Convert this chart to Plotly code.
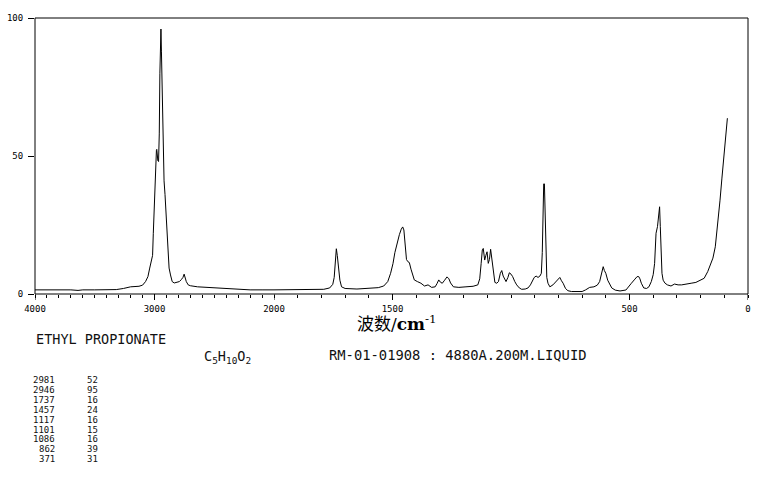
import plotly.graph_objects as go

# ---- spectrum data (Raman, ethyl propionate) ----
# high-wavenumber part (4000-2000 cm-1, compressed scale)
wn_hi = [4000, 3900, 3820, 3780, 3700, 3640, 3600, 3500, 3400, 3320, 3260, 3200, 3130, 3100,
         3075, 3055, 3040, 3026, 3016, 3010, 3004, 2998, 2990, 2984, 2981, 2978, 2972, 2966,
         2960, 2955, 2950, 2946, 2942, 2937, 2932, 2927, 2920, 2912, 2904, 2896, 2888, 2878,
         2866, 2852, 2835, 2812, 2792, 2776, 2762, 2752, 2744, 2734, 2718, 2700, 2640, 2560,
         2480, 2400, 2300, 2200, 2100, 2000]
int_hi = [1.5, 1.5, 1.5, 1.7, 1.5, 1.3, 1.5, 1.5, 1.6, 1.6, 2.0, 2.6, 2.8, 3.2,
          4.5, 6.3, 9.4, 12.3, 14, 22, 29, 42, 49.7, 52, 52.4, 48.6, 48.3, 48,
          58, 80, 92, 96, 88, 76, 55, 47, 41, 36, 30, 22, 14, 9.4,
          6.9, 4.5, 4.0, 4.3, 4.5, 5.2, 6.0, 7.2, 5.5, 4.5, 3.3, 3.0, 2.6, 2.4,
          2.2, 1.9, 1.6, 1.5, 1.5, 1.5]

# low-wavenumber part (2000-0 cm-1)
wn_lo = [2000, 1900, 1820, 1790, 1765, 1752, 1746, 1741, 1737, 1733, 1728, 1722, 1715, 1700,
         1650, 1600, 1560, 1537, 1520, 1508, 1498, 1490, 1480, 1471, 1463, 1457, 1452, 1447,
         1441, 1435, 1429, 1422, 1416, 1408, 1395, 1380, 1365, 1350, 1335, 1320, 1312, 1305,
         1298, 1290, 1280, 1270, 1262, 1255, 1243, 1220, 1190, 1160, 1140, 1132, 1126, 1121,
         1117, 1111, 1106, 1101, 1096, 1091, 1086, 1081, 1075, 1068, 1060, 1053, 1045, 1039,
         1033, 1027, 1021, 1013, 1007, 1000, 993, 984, 976, 965, 955, 940, 928, 918,
         910, 902, 894, 886, 878, 872, 868, 865, 862, 859, 856, 853, 849, 844,
         836, 823, 810, 800, 794, 787, 780, 770, 760, 745, 720, 700, 685, 668,
         650, 636, 626, 618, 611, 606, 600, 592, 584, 575, 560, 540, 515, 500,
         492, 480, 468, 461, 456, 450, 440, 428, 418, 408, 400, 394, 388, 382,
         376, 373, 370, 367, 363, 358, 350, 340, 325, 310, 295, 280, 260, 240,
         220, 200, 185, 170, 158, 148, 138, 128, 118, 110, 102, 96, 90, 87]
int_lo = [1.5, 1.5, 1.6, 1.7, 2.2, 3.5, 6, 11, 16.4, 14, 9.9, 5, 2.6, 2.0,
          1.8, 2.0, 2.3, 2.9, 4.5, 7.5, 11, 15, 19, 21.5, 23.5, 24.3, 23.2, 17.1,
          12.5, 11.7, 11.4, 9, 6.9, 5.1, 4.5, 3.9, 2.9, 3.3, 2.4, 2.6, 3.8, 5.1,
          4.3, 3.9, 5.0, 6.2, 5.5, 4.0, 2.6, 2.4, 2.6, 2.8, 3.3, 5.5, 11, 16,
          16.5, 12.3, 14, 15.3, 11.1, 12.5, 16.2, 12.3, 7.5, 4.2, 3.9, 4.5, 7.5, 8.5,
          6.5, 5.7, 4.5, 6.0, 7.7, 7.2, 6.3, 4.5, 3.3, 2.2, 1.7, 1.8, 2.2, 3.3,
          4.5, 6.0, 6.5, 6.0, 6.5, 7.5, 15, 28, 39.9, 39.9, 30, 15, 6, 3.9,
          2.6, 3.3, 4.5, 5.5, 6.0, 4.8, 3.9, 2.0, 1.2, 0.9, 0.8, 0.9, 1.5, 2.4,
          2.6, 3.2, 4.5, 7.5, 9.9, 8.5, 7.5, 5, 3.9, 2.2, 1.4, 1.1, 1.45, 2.8,
          3.9, 5.1, 6.3, 6.3, 5.5, 3.9, 2.2, 2.0, 2.6, 4.5, 7, 11.1, 22, 24.4,
          31, 31.6, 24.4, 14.7, 7.5, 5, 3.9, 3.3, 2.9, 3.6, 3.3, 3.3, 3.5, 3.9,
          4.2, 5.0, 5.7, 8.1, 10.5, 13, 17.1, 24.4, 34, 42, 50, 55.8, 60.6, 63.7]

# ---- axis tick labels ----
x_hi_labels = {4000: "4000", 3000: "3000"}
x_lo_labels = {2000: "2000", 1500: "1500", 500: "500", 0: "0"}
x_tick_step = 100
y_ticks = [0, 50, 100]
y_text = ["0", "50", "100"]

# ---- text block ----
compound = "ETHYL PROPIONATE"
formula = "C<sub>5</sub>H<sub>10</sub>O<sub>2</sub>"
sample_info = "RM-01-01908 : 4880A.200M.LIQUID"
peak_wn = ["2981", "2946", "1737", "1457", "1117", "1101", "1086", "862", "371"]
peak_int = ["52", "95", "16", "24", "16", "15", "16", "39", "31"]

# ---- layout geometry (pixels) ----
W, H = 761, 477
L, R, T, B = 35, 748, 18, 294
split = 274
pw, ph = R - L, B - T
dsplit = (split - L) / pw


def px(xp):
    return (xp - L) / pw


def py(yp):
    return (B - yp) / ph


MONO = "DejaVu Sans Mono"

fig = go.Figure()
fig.add_trace(go.Scatter(x=wn_hi, y=int_hi, mode="lines", xaxis="x", yaxis="y",
                         line=dict(color="black", width=1), hoverinfo="skip"))
fig.add_trace(go.Scatter(x=wn_lo, y=int_lo, mode="lines", xaxis="x2", yaxis="y",
                         line=dict(color="black", width=1), hoverinfo="skip"))

tickfont = dict(family=MONO, size=9, color="black")
common_x = dict(showgrid=False, zeroline=False, showline=False, ticks="outside",
                ticklen=3, tickwidth=1, tickcolor="black", tickfont=tickfont,
                tickmode="array", anchor="y", fixedrange=True, automargin=False,
                ticklabelstandoff=3)

hi_vals = list(range(4000, 1999, -x_tick_step))
lo_vals = list(range(2000, -1, -x_tick_step))
hi_text = [x_hi_labels.get(v, "") for v in hi_vals]
lo_text = [x_lo_labels.get(v, "") for v in lo_vals]

# longer tick marks at the labelled positions
shapes = [dict(type="rect", xref="paper", yref="paper", x0=0, x1=1, y0=0, y1=1,
               line=dict(color="black", width=1), layer="above")]
for v in x_hi_labels:
    shapes.append(dict(type="line", xref="x", yref="paper", x0=v, x1=v, y0=0, y1=-6 / ph,
                       line=dict(color="black", width=1)))
for v in x_lo_labels:
    shapes.append(dict(type="line", xref="x2", yref="paper", x0=v, x1=v, y0=0, y1=-6 / ph,
                       line=dict(color="black", width=1)))

fig.update_layout(
    width=W, height=H,
    margin=dict(l=L, r=W - R, t=T, b=H - B, pad=0, autoexpand=False),
    paper_bgcolor="white", plot_bgcolor="white",
    showlegend=False,
    xaxis=dict(domain=[0, dsplit], range=[4000, 2000], tickvals=hi_vals, ticktext=hi_text,
               **common_x),
    xaxis2=dict(domain=[dsplit, 1], range=[2000, 0], tickvals=lo_vals, ticktext=lo_text,
                **common_x),
    yaxis=dict(range=[0, 100], tickmode="array", tickvals=y_ticks, ticktext=y_text,
               showgrid=False, zeroline=False, showline=False, ticks="outside",
               ticklen=6, tickcolor="black", tickfont=tickfont, anchor="x",
               ticklabelstandoff=3, fixedrange=True, automargin=False),
    shapes=shapes,
)

ann = []
ann.append(dict(text="波数/<b>cm</b><sup>-1</sup>", x=px(397), y=py(323), xref="paper", yref="paper",
                xanchor="center", yanchor="middle", showarrow=False,
                font=dict(family="DejaVu Serif, Noto Sans CJK SC", size=17, color="black")))
ann.append(dict(text=compound, x=px(34), y=py(339), xref="paper", yref="paper",
                xanchor="left", yanchor="middle", showarrow=False,
                font=dict(family=MONO, size=13.5, color="#111")))
ann.append(dict(text=formula, x=px(202), y=py(357), xref="paper", yref="paper",
                xanchor="left", yanchor="middle", showarrow=False,
                font=dict(family=MONO, size=13.5, color="#111")))
ann.append(dict(text=sample_info, x=px(327), y=py(355), xref="paper", yref="paper",
                xanchor="left", yanchor="middle", showarrow=False,
                font=dict(family=MONO, size=13.8, color="#111")))
for i, (w, v) in enumerate(zip(peak_wn, peak_int)):
    yy = py(380 + i * 9.9)
    ann.append(dict(text=w, x=px(57), y=yy, xref="paper", yref="paper",
                    xanchor="right", yanchor="middle", showarrow=False,
                    font=dict(family=MONO, size=9, color="#111")))
    ann.append(dict(text=v, x=px(85), y=yy, xref="paper", yref="paper",
                    xanchor="left", yanchor="middle", showarrow=False,
                    font=dict(family=MONO, size=9, color="#111")))
fig.update_layout(annotations=ann)

fig.write_html("out.html", config={"displayModeBar": False},
               post_script="document.body.style.margin='0';")
